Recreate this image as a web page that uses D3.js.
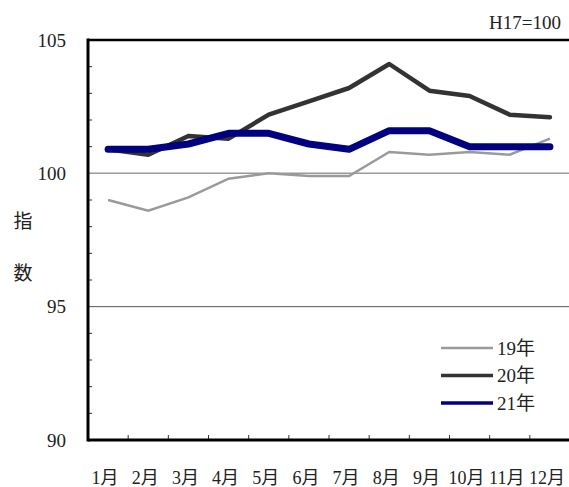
<!DOCTYPE html>
<html><head><meta charset="utf-8">
<script src="https://cdn.jsdelivr.net/npm/d3@7"></script>
<style>
html,body{margin:0;padding:0;background:#fff;}
svg text{font-family:"Liberation Serif","Noto Sans CJK JP",serif;fill:#222;}
</style></head>
<body>
<svg id="chart" width="569" height="487"></svg>
<script>
const months = ["1月","2月","3月","4月","5月","6月","7月","8月","9月","10月","11月","12月"];
const seriesNames = ["19年","20年","21年"];
const values19 = [99.0, 98.6, 99.1, 99.8, 100.0, 99.9, 99.9, 100.8, 100.7, 100.8, 100.7, 101.3];
const values20 = [100.9, 100.7, 101.4, 101.3, 102.2, 102.7, 103.2, 104.1, 103.1, 102.9, 102.2, 102.1];
const values21 = [100.9, 100.9, 101.1, 101.5, 101.5, 101.1, 100.9, 101.6, 101.6, 101.0, 101.0, 101.0];
const yTicks = [90, 95, 100, 105];
const yMinor = [91,92,93,94,96,97,98,99,101,102,103,104];
const baseLabel = "H17=100";
const yTitle = ["指","数"];

const colors = ["#9a9a9a", "#333333", "#000080"];
const widths = [2.5, 4.5, 7];
const allSeries = [values19, values20, values21];

const svg = d3.select("#chart");
const pL = 88, pR = 570, pT = 40, pB = 440;

const x = d3.scaleBand().domain(months).range([pL, pR]).padding(0);
const y = d3.scaleLinear().domain([90, 105]).range([pB, pT]);

// gridlines
svg.append("line").attr("x1", pL).attr("x2", pR).attr("y1", y(100)).attr("y2", y(100))
  .attr("stroke", "#999").attr("stroke-width", 1.5);
svg.append("line").attr("x1", pL).attr("x2", pR).attr("y1", y(95)).attr("y2", y(95))
  .attr("stroke", "#555").attr("stroke-width", 1);

// minor ticks on left axis (inward)
svg.append("g").selectAll("line").data(yMinor).join("line")
  .attr("x1", pL).attr("x2", pL + 4)
  .attr("y1", d => y(d)).attr("y2", d => y(d))
  .attr("stroke", "#333").attr("stroke-width", 1);

// x ticks (inward, at band boundaries)
svg.append("g").selectAll("line").data(months.slice(1)).join("line")
  .attr("x1", d => x(d)).attr("x2", d => x(d))
  .attr("y1", pB).attr("y2", pB - 5)
  .attr("stroke", "#333").attr("stroke-width", 1);

// lines
const line = d3.line().x((d, i) => x(months[i]) + x.bandwidth() / 2).y(d => y(d));
allSeries.forEach((vals, k) => {
  svg.append("path").datum(vals).attr("d", line)
    .attr("fill", "none").attr("stroke", colors[k]).attr("stroke-width", widths[k])
    .attr("stroke-linejoin", k === 0 ? "miter" : "round")
    .attr("stroke-linecap", k === 0 ? "butt" : "round");
});

// frame: left, top, bottom
svg.append("line").attr("x1", pL).attr("x2", pL).attr("y1", pT - 1.5).attr("y2", pB + 1.5)
  .attr("stroke", "#000").attr("stroke-width", 3);
svg.append("line").attr("x1", pL).attr("x2", pR).attr("y1", pT).attr("y2", pT)
  .attr("stroke", "#000").attr("stroke-width", 2.5);
svg.append("line").attr("x1", pL).attr("x2", pR).attr("y1", pB).attr("y2", pB)
  .attr("stroke", "#000").attr("stroke-width", 3);

// y tick labels
svg.append("g").selectAll("text").data(yTicks).join("text")
  .attr("x", 66).attr("y", d => y(d)).attr("dy", "0.35em")
  .attr("text-anchor", "end").attr("font-size", 19).text(d => d);

// x labels
svg.append("g").selectAll("text").data(months).join("text")
  .attr("x", d => x(d) + x.bandwidth() / 2 - 3).attr("y", 484)
  .attr("text-anchor", "middle").attr("font-size", 18).text(d => d);

// y title
svg.append("g").selectAll("text").data(yTitle).join("text")
  .attr("x", 23).attr("y", (d, i) => 221 + i * 52).attr("dy", "0.35em")
  .attr("text-anchor", "middle").attr("font-size", 19).text(d => d);

// base label
svg.append("text").attr("x", 561).attr("y", 29).attr("text-anchor", "end")
  .attr("font-size", 19).text(baseLabel);

// legend
const legW = [2.5, 3.5, 3.5];
const lg = svg.append("g");
seriesNames.forEach((name, k) => {
  const ly = 348 + k * 27.5;
  lg.append("line").attr("x1", 441).attr("x2", 493).attr("y1", ly).attr("y2", ly)
    .attr("stroke", colors[k]).attr("stroke-width", legW[k]);
  lg.append("text").attr("x", 497).attr("y", ly).attr("dy", "0.35em")
    .attr("font-size", 19).text(name);
});
</script>
</body></html>
